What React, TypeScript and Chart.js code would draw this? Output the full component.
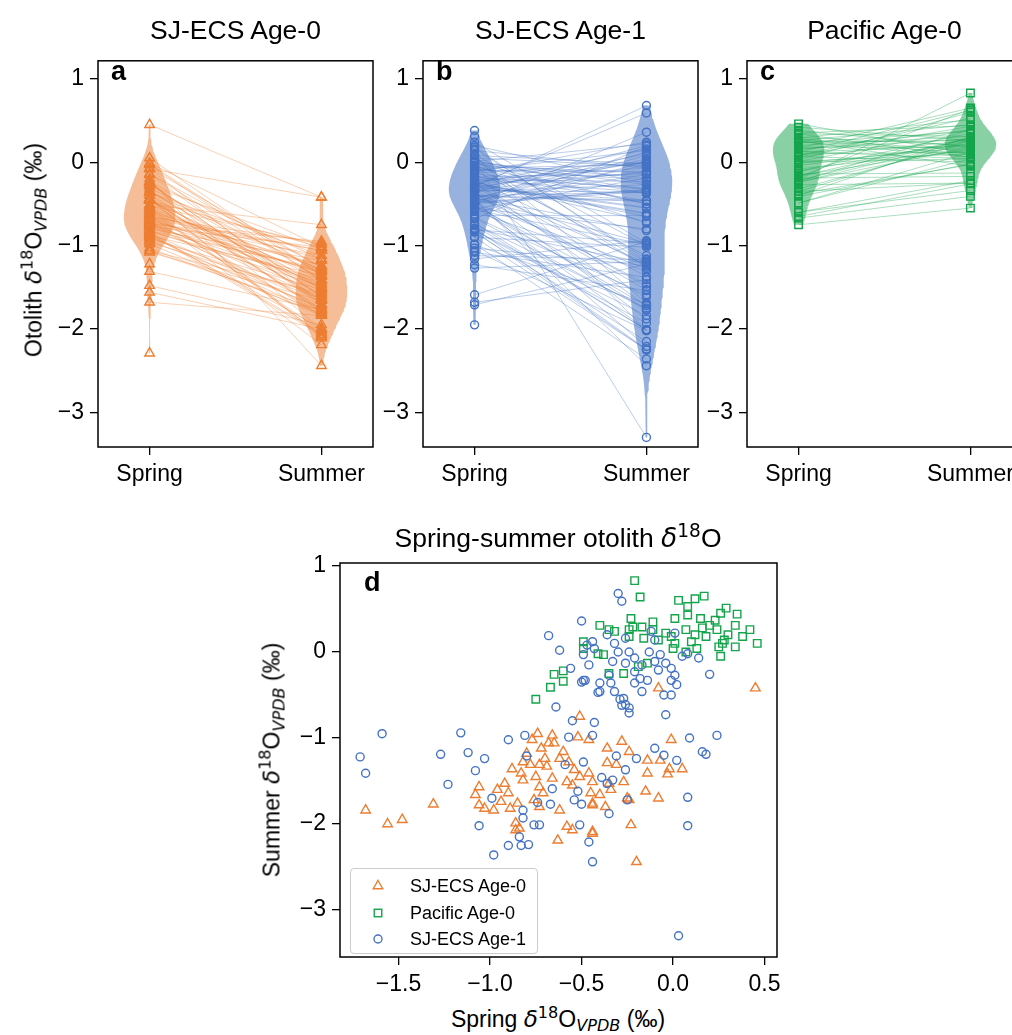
import React, { useEffect, useRef } from "react";
import { Chart, registerables } from "chart.js";

Chart.register(...registerables);

const FONT = "'Liberation Sans', Arial, Helvetica, sans-serif";
const MATH_FONT = "'DejaVu Sans', 'Liberation Sans', sans-serif";
Chart.defaults.font.family = FONT;
Chart.defaults.color = "#000";

// ---------------- data ----------------
const GROUPS = ["SJ-ECS Age-0", "SJ-ECS Age-1", "Pacific Age-0"];
const SEASONS = ["Spring", "Summer"];
const SEASON_X = [0, 1];
const PANEL_Y_TICKS = [-3, -2, -1, 0, 1];
const D_X_TICKS = [-1.5, -1.0, -0.5, 0.0, 0.5];
const D_Y_TICKS = [-3, -2, -1, 0, 1];

// SJ-ECS Age-0 (paired: spring[i] -> summer[i])
const SJ0_SPRING: (number | null)[] = [
  -0.51, -0.74, -0.77, -0.66, -0.68, -0.52, -0.46, -0.36, -0.28, -0.62,
  -0.7, -0.73, -0.78, -0.82, -0.69, -0.83, -0.82, -0.54, -0.51, -0.58,
  -0.46, -0.44, -0.36, -0.31, -0.27, -0.35, -0.92, -0.96, -0.9, -1.06,
  -1.08, -1.06, -1.03, -0.98, -0.94, -0.89, -0.85, -0.76, -0.73, -0.73,
  -0.71, -0.62, -0.55, -0.45, -0.4, -0.44, -0.37, -0.86, -0.86, -0.84,
  -0.58, -0.55, -0.44, -0.63, -0.25, -0.65, -0.01, -0.24, -0.14, -0.07,
  -0.02, 0.05, -0.03, -0.14, -0.15, -0.08, -0.24, -0.34, -0.23, -0.44,
  -0.2, -0.44, 0.45, -0.08, -1.68, -1.56, -1.48, -1.31, -0.8, -0.72,
  -0.6, -0.75, -0.66, -0.88, -0.57, -1.22, -2.29,
];
const SJ0_SUMMER: (number | null)[] = [
  -0.75, -0.95, -1.02, -0.97, -1.06, -0.99, -1.02, -1.12, -1.04, -1.24,
  -1.24, -1.31, -1.31, -1.28, -1.33, -1.41, -1.49, -1.37, -1.45, -1.51,
  -1.41, -1.51, -1.29, -1.31, -1.51, -1.53, -1.53, -1.6, -1.64, -1.57,
  -1.66, -1.78, -1.82, -1.84, -1.74, -1.82, -1.76, -1.72, -1.8, -1.57,
  -1.64, -1.84, -1.55, -1.64, -1.66, -1.76, -1.8, -1.99, -2.07, -2.05,
  -2.03, -2.07, -2.09, -2.19, -1.7, -1.06, -1.02, -1.16, -1.26, -1.26,
  -1.36, -1.36, -1.42, -1.41, -1.62, -1.7, -1.72, -1.6, -2.01, -2.11,
  -2.44, -1.78, -0.42, -0.42, -1.84, -2.0, -1.95, -1.77, -1.18, -1.12,
  -1.16, -1.45, -1.47, -1.36, -1.28, null, null,
];

// SJ-ECS Age-1
const SJ1_SPRING: (number | null)[] = [
  -1.59, -1.16, -0.9, -0.81, -1.71, -1.68, -1.27, -1.12, -1.03, -1.08,
  -1.23, -0.99, -1.06, -0.98, -0.9, -0.83, -0.79, -0.82, -0.82, -0.84,
  -0.8, -0.76, -0.55, -0.43, -0.57, -0.44, -0.59, -0.49, -0.31, -0.26,
  -0.39, -0.36, -0.33, -0.66, -0.52, -0.54, -0.5, -0.74, -0.67, -0.73,
  -0.51, -0.35, -0.46, -0.44, -0.25, -0.64, -0.28, -0.24, -0.04, 0.09,
  0.24, 0.16, 0.18, -0.1, -0.05, 0.02, -0.2, 0.08, 0.08, 0.03,
  -0.3, -0.28, -0.5, -0.47, -0.49, -0.46, -0.49, -0.4, -0.4, -0.35,
  -0.34, -0.32, -0.27, -0.26, -0.36, -0.32, -0.26, -0.3, -0.24, -0.33,
  -0.26, -0.21, -0.17, -0.21, -0.18, -0.21, -0.17, -0.14, -0.12, -0.1,
  -0.13, -0.07, -0.1, -0.04, -0.08, -0.01, 0.01, -0.01, 0.02, -0.05,
  -0.01, 0.01, 0.05, 0.08, 0.14, 0.2, -0.43, -0.44, -0.68, -0.62,
  -0.56, -0.5, -0.48, -0.41, -0.29, -0.24, 0.38, 0.31, -1.95,
];
const SJ1_SUMMER: (number | null)[] = [
  -0.95, -0.94, -1.02, -0.97, -1.22, -1.41, -1.19, -1.17, -1.24, -1.38,
  -1.54, -1.7, -2.02, -2.36, -2.25, -2.25, -2.24, -1.84, -1.93, -2.15,
  -1.21, -2.01, -0.8, -0.82, -0.99, -0.97, -1.31, -1.28, -1.21, -1.37,
  -1.46, -1.53, -1.49, -1.59, -1.62, -1.72, -1.77, -1.75, -1.77, -2.01,
  -2.01, -1.88, -2.21, -2.44, -1.72, -0.64, -0.62, -0.71, -0.73, -1.0,
  -0.97, -1.16, -1.19, -1.12, -1.2, -1.26, -1.24, -1.69, -2.02, -3.3,
  0.68, 0.59, 0.36, 0.08, -0.03, -0.15, -0.33, -0.36, -0.46, -0.27,
  -0.36, -0.46, -0.54, -0.61, 0.2, 0.1, 0.16, 0.0, 0.0, -0.11,
  -0.13, -0.07, -0.15, -0.23, -0.31, -0.36, -0.46, -0.33, 0.24, 0.14,
  0.0, -0.03, -0.11, -0.13, -0.21, -0.19, -0.27, -0.33, -0.38, -0.5,
  -0.5, 0.22, -0.05, -0.02, -0.07, -0.26, 0.04, 0.12, 0.19, 0.02,
  -0.19, -0.35, -0.33, -0.47, -0.55, -0.65, null, null, null,
];

// Pacific Age-0
const PAC_SPRING: (number | null)[] = [
  -0.21, -0.18, 0.03, 0.12, 0.17, 0.08, 0.08, 0.15, 0.29, 0.26,
  0.35, 0.23, 0.01, -0.11, -0.23, -0.22, -0.17, -0.4, -0.35, -0.32,
  -0.24, -0.11, -0.04, 0.07, 0.12, 0.16, 0.2, 0.24, 0.3, 0.34,
  0.38, 0.42, 0.46, 0.34, 0.27, 0.25, 0.26, 0.28, 0.18, 0.1,
  0.01, -0.01, 0.07, 0.13, 0.0, -0.08, -0.16, -0.24, -0.49, -0.49,
  -0.38, -0.41, -0.14, -0.19, -0.27, -0.35, -0.65, -0.6, -0.6, -0.67,
  -0.75,
];
const PAC_SUMMER: (number | null)[] = [
  0.83, 0.64, 0.6, 0.62, 0.65, 0.53, 0.43, 0.39, 0.51, 0.45,
  0.44, 0.37, 0.39, 0.35, 0.39, 0.29, 0.29, 0.31, 0.26, 0.24,
  0.26, 0.26, 0.22, 0.26, 0.2, 0.28, 0.31, 0.26, 0.2, 0.31,
  0.18, 0.26, 0.1, 0.06, 0.1, 0.06, -0.05, 0.14, 0.18, 0.12,
  0.1, 0.18, 0.0, 0.04, 0.04, 0.14, 0.16, 0.18, 0.12, 0.04,
  -0.03, -0.02, -0.13, -0.17, -0.25, -0.25, -0.26, -0.22, -0.34, -0.41,
  -0.55,
];

// ---------------- styles ----------------
const ORANGE = "#ED7D31";
const BLUE = "#4472C4";
const GREEN = "#14A44B";
const STYLES = [
  { color: ORANGE, fill: "rgba(237,125,49,0.5)", line: "rgba(237,125,49,0.45)", point: "triangle", radius: 5.5 },
  { color: BLUE, fill: "rgba(68,114,196,0.55)", line: "rgba(68,114,196,0.45)", point: "circle", radius: 4 },
  { color: GREEN, fill: "rgba(20,164,75,0.5)", line: "rgba(20,164,75,0.45)", point: "rect", radius: 5.3 },
];
const VIOLIN_HALF = 0.15;
const TICK_SIZE = 23;
const LABEL_SIZE = 23;
const TITLE_SIZE = 26.5;

const fmt = (v: number, d: number) => (v < 0 ? "\u2212" : "") + Math.abs(v).toFixed(d);

// Gaussian KDE (Scott's rule) outline of a violin, built from the values
function violin(vals: (number | null)[], center: number, half: number) {
  const v = vals.filter((x) => x !== null) as number[];
  const n = v.length;
  const mean = v.reduce((a, b) => a + b, 0) / n;
  const sd = Math.sqrt(v.reduce((a, b) => a + (b - mean) ** 2, 0) / (n - 1));
  const bw = sd * Math.pow(n, -0.2);
  const lo = Math.min(...v);
  const hi = Math.max(...v);
  const steps = 100;
  const ys: number[] = [];
  const ds: number[] = [];
  for (let i = 0; i <= steps; i++) {
    const y = lo + ((hi - lo) * i) / steps;
    let d = 0;
    for (const vi of v) d += Math.exp(-0.5 * ((y - vi) / bw) ** 2);
    ys.push(y);
    ds.push(d);
  }
  const dmax = Math.max(...ds);
  const right = ys.map((y, i) => ({ x: center + (half * ds[i]) / dmax, y }));
  const left = ys.map((y, i) => ({ x: center - (half * ds[i]) / dmax, y })).reverse();
  return [...right, ...left];
}

const framePlugin = {
  id: "frame",
  afterDatasetsDraw(chart: any) {
    const { ctx, chartArea: a } = chart;
    ctx.save();
    ctx.strokeStyle = "#000";
    ctx.lineWidth = 1.5;
    ctx.strokeRect(a.left, a.top, a.right - a.left, a.bottom - a.top);
    ctx.restore();
  },
};

function axis(min: number, max: number, ticks: number[], label: (v: number, i: number) => string, size: number, isX: boolean) {
  return {
    type: "linear",
    min,
    max,
    afterBuildTicks: (s: any) => {
      s.ticks = ticks.map((v) => ({ value: v }));
    },
    afterFit: (s: any) => {
      if (isX) s.height = size;
      else s.width = size;
    },
    ticks: {
      callback: (_v: any, i: number) => label(ticks[i], i),
      font: { size: TICK_SIZE, family: FONT },
      color: "#000",
      padding: 6,
      autoSkip: false,
      maxRotation: 0,
      minRotation: 0,
    },
    grid: { display: true, drawOnChartArea: false, drawTicks: true, tickLength: 8, color: "#000", lineWidth: 1.3 },
    border: { display: false },
  };
}

const Y_W = 70;
const X_H = 55;
const PAD_T = 12;
const PAD_R = 12;
const TOP = { t: 53, b: 447, ymin: -3.415, ymax: 1.216, xmin: -0.3, xmax: 1.3 };
const PANEL_LEFTS = [98, 423, 747];
const PANEL_W = 275;

function markerProps(st: any) {
  return {
    pointStyle: st.point,
    pointRadius: st.radius,
    pointBorderWidth: 1.4,
    borderWidth: 1.4,
    borderColor: st.color,
    pointBorderColor: st.color,
    backgroundColor: "rgba(255,255,255,0)",
    pointBackgroundColor: "rgba(255,255,255,0)",
  };
}

function panelConfig(spring: (number | null)[], summer: (number | null)[], st: any) {
  const datasets: any[] = [];
  [spring, summer].forEach((vals, i) => {
    datasets.push({
      type: "scatter",
      data: (vals.filter((v) => v !== null) as number[]).map((v) => ({ x: SEASON_X[i], y: v })),
      ...markerProps(st),
      order: 0,
    });
  });
  spring.forEach((s, i) => {
    const u = summer[i];
    if (s === null || u === null) return;
    datasets.push({
      type: "line",
      data: [
        { x: SEASON_X[0], y: s },
        { x: SEASON_X[1], y: u },
      ],
      borderColor: st.line,
      borderWidth: 0.8,
      pointRadius: 0,
      fill: false,
      order: 1,
    });
  });
  [spring, summer].forEach((vals, i) => {
    datasets.push({
      type: "line",
      data: violin(vals, SEASON_X[i], VIOLIN_HALF),
      fill: "shape",
      backgroundColor: st.fill,
      borderColor: "rgba(0,0,0,0)",
      borderWidth: 1,
      pointRadius: 0,
      tension: 0,
      order: 2,
    });
  });
  return {
    type: "scatter",
    data: { datasets },
    options: {
      responsive: false,
      maintainAspectRatio: false,
      animation: false,
      events: [],
      layout: { padding: { top: PAD_T, right: PAD_R, left: 0, bottom: 0 } },
      plugins: { legend: { display: false }, tooltip: { enabled: false }, title: { display: false } },
      scales: {
        x: axis(TOP.xmin, TOP.xmax, SEASON_X, (_v, i) => SEASONS[i], X_H, true),
        y: axis(TOP.ymin, TOP.ymax, PANEL_Y_TICKS, (v) => fmt(v, 0), Y_W, false),
      },
    },
    plugins: [framePlugin],
  };
}

const D = { l: 340, r: 777, t: 563, b: 957, xmin: -1.82, xmax: 0.568, ymin: -3.547, ymax: 1.035 };
const D_YW = 80;
const D_XH = 45;
const D_PT = 20;
const D_PR = 20;

function pairs(spring: (number | null)[], summer: (number | null)[]) {
  const out: { x: number; y: number }[] = [];
  spring.forEach((s, i) => {
    const u = summer[i];
    if (s !== null && u !== null) out.push({ x: s, y: u });
  });
  return out;
}

function scatterConfig() {
  const datasets = [
    { type: "scatter", label: GROUPS[0], data: pairs(SJ0_SPRING, SJ0_SUMMER), ...markerProps(STYLES[0]), order: 2 },
    { type: "scatter", label: GROUPS[2], data: pairs(PAC_SPRING, PAC_SUMMER), ...markerProps(STYLES[2]), order: 1 },
    { type: "scatter", label: GROUPS[1], data: pairs(SJ1_SPRING, SJ1_SUMMER), ...markerProps(STYLES[1]), order: 0 },
  ];
  return {
    type: "scatter",
    data: { datasets },
    options: {
      responsive: false,
      maintainAspectRatio: false,
      animation: false,
      events: [],
      layout: { padding: { top: D_PT, right: D_PR, left: 0, bottom: 0 } },
      plugins: { legend: { display: false }, tooltip: { enabled: false }, title: { display: false } },
      scales: {
        x: axis(D.xmin, D.xmax, D_X_TICKS, (v) => fmt(v, 1), D_XH, true),
        y: axis(D.ymin, D.ymax, D_Y_TICKS, (v) => fmt(v, 0), D_YW, false),
      },
    },
    plugins: [framePlugin],
  };
}

function ChartCanvas({ x, y, w, h, make }: { x: number; y: number; w: number; h: number; make: () => any }) {
  const ref = useRef<HTMLCanvasElement>(null);
  useEffect(() => {
    const chart = new Chart(ref.current as HTMLCanvasElement, make());
    return () => chart.destroy();
  }, []);
  return <canvas ref={ref} width={w} height={h} style={{ position: "absolute", left: x, top: y, width: w, height: h }} />;
}

const supStyle: React.CSSProperties = { fontFamily: MATH_FONT, fontSize: "0.7em", verticalAlign: "0.55em", lineHeight: 0 };
const subStyle: React.CSSProperties = {
  fontFamily: MATH_FONT,
  fontSize: "0.7em",
  verticalAlign: "-0.3em",
  lineHeight: 0,
  fontStyle: "italic",
};

function Delta({ sub }: { sub?: boolean }) {
  return (
    <>
      <span style={{ fontStyle: "italic", fontFamily: MATH_FONT }}>δ</span>
      <span style={supStyle}>18</span>O{sub ? <span style={subStyle}>VPDB</span> : null}
    </>
  );
}

function Txt({ x, y, size, rotate, bold, children }: any) {
  return (
    <div
      style={{
        position: "absolute",
        left: x,
        top: y,
        transform: `translate(-50%, -50%)${rotate ? " rotate(-90deg)" : ""}`,
        whiteSpace: "nowrap",
        fontSize: size,
        fontWeight: bold ? "bold" : "normal",
        fontFamily: FONT,
        lineHeight: 1,
        color: "#000",
      }}
    >
      {children}
    </div>
  );
}

function LegendMarker({ st }: { st: any }) {
  const c = 8;
  let shape: any;
  if (st.point === "triangle") {
    const r = st.radius;
    const pts = [0, 1, 2]
      .map((k) => {
        const a = (k * 2 * Math.PI) / 3;
        return `${c + Math.sin(a) * r},${c - Math.cos(a) * r}`;
      })
      .join(" ");
    shape = <polygon points={pts} fill="none" stroke={st.color} strokeWidth={1.4} />;
  } else if (st.point === "rect") {
    const s = st.radius * Math.SQRT1_2;
    shape = <rect x={c - s} y={c - s} width={2 * s} height={2 * s} fill="none" stroke={st.color} strokeWidth={1.4} />;
  } else {
    shape = <circle cx={c} cy={c} r={st.radius} fill="none" stroke={st.color} strokeWidth={1.4} />;
  }
  return (
    <svg width={16} height={16} style={{ position: "absolute", left: 19, top: -8 }}>
      {shape}
    </svg>
  );
}

const LEGEND_ORDER = [0, 2, 1];

export default function App() {
  const panels = [
    { s: SJ0_SPRING, u: SJ0_SUMMER, st: STYLES[0], title: GROUPS[0], letter: "a" },
    { s: SJ1_SPRING, u: SJ1_SUMMER, st: STYLES[1], title: GROUPS[1], letter: "b" },
    { s: PAC_SPRING, u: PAC_SUMMER, st: STYLES[2], title: GROUPS[2], letter: "c" },
  ];
  return (
    <div
      style={{
        position: "absolute",
        left: 0,
        top: 0,
        width: 1012,
        height: 1035,
        overflow: "hidden",
        background: "#fff",
        fontFamily: FONT,
      }}
    >
      {panels.map((p, i) => {
        const l = PANEL_LEFTS[i];
        return (
          <React.Fragment key={i}>
            <ChartCanvas
              x={l - Y_W}
              y={TOP.t - PAD_T}
              w={PANEL_W + Y_W + PAD_R}
              h={TOP.b - TOP.t + PAD_T + X_H}
              make={() => panelConfig(p.s, p.u, p.st)}
            />
            <Txt x={l + PANEL_W / 2} y={30} size={TITLE_SIZE}>
              {p.title}
            </Txt>
            <div
              style={{
                position: "absolute",
                left: l + 13,
                top: 58,
                fontSize: 27,
                fontWeight: "bold",
                lineHeight: 1,
                fontFamily: FONT,
              }}
            >
              {p.letter}
            </div>
          </React.Fragment>
        );
      })}
      <Txt x={34} y={250} size={LABEL_SIZE} rotate>
        Otolith <Delta sub /> (‰)
      </Txt>

      <ChartCanvas
        x={D.l - D_YW}
        y={D.t - D_PT}
        w={D.r - D.l + D_YW + D_PR}
        h={D.b - D.t + D_PT + D_XH}
        make={scatterConfig}
      />
      <Txt x={558} y={538} size={TITLE_SIZE}>
        Spring-summer otolith <Delta />
      </Txt>
      <div
        style={{
          position: "absolute",
          left: D.l + 24,
          top: 569,
          fontSize: 27,
          fontWeight: "bold",
          lineHeight: 1,
          fontFamily: FONT,
        }}
      >
        d
      </div>
      <Txt x={272} y={760} size={LABEL_SIZE} rotate>
        Summer <Delta sub /> (‰)
      </Txt>
      <Txt x={558} y={1019} size={LABEL_SIZE}>
        Spring <Delta sub /> (‰)
      </Txt>
      <div
        style={{
          position: "absolute",
          left: 350,
          top: 868,
          width: 188,
          height: 86,
          boxSizing: "border-box",
          border: "1px solid #cccccc",
          borderRadius: 4,
          background: "rgba(255,255,255,0.8)",
        }}
      >
        {LEGEND_ORDER.map((gi, k) => (
          <div key={gi} style={{ position: "absolute", left: 0, top: 17 + k * 26.5, width: "100%" }}>
            <LegendMarker st={STYLES[gi]} />
            <div
              style={{
                position: "absolute",
                left: 59,
                top: -10,
                fontSize: 18,
                lineHeight: "20px",
                whiteSpace: "nowrap",
                fontFamily: FONT,
                color: "#000",
              }}
            >
              {GROUPS[gi]}
            </div>
          </div>
        ))}
      </div>
    </div>
  );
}
